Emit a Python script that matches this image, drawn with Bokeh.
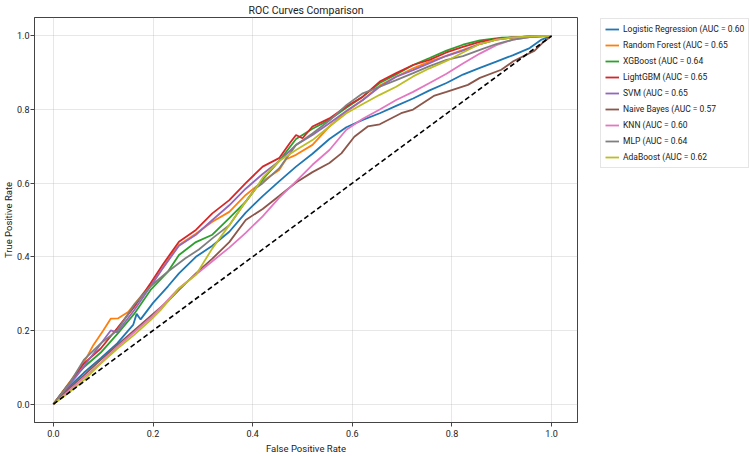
from bokeh.plotting import figure
from bokeh.layouts import row
from bokeh.models import Legend, LegendItem, FixedTicker
from bokeh.embed import file_html
from bokeh.resources import INLINE

# ROC curve points (false positive rate / true positive rate) per model
lr_fpr = [0, .03, .061, .095, .128, .16, .167, .175, .2, .23, .252, .286, .319, .353, .386, .42, .453, .487, .52, .554, .588, .621, .655, .688, .722, .755, .789, .822, .856, .889, .923, .956, .98, 1]
lr_tpr = [0, .045, .085, .125, .165, .215, .245, .23, .275, .32, .355, .4, .43, .468, .52, .565, .605, .645, .68, .72, .752, .772, .79, .81, .83, .852, .872, .895, .913, .93, .948, .967, .99, 1]

rf_fpr = [0, .03, .06, .08, .1, .115, .13, .15, .18, .2, .239, .252, .286, .319, .353, .386, .406, .42, .453, .467, .487, .52, .554, .588, .621, .655, .688, .722, .755, .789, .822, .856, .889, .923, .956, 1]
rf_tpr = [0, .055, .11, .16, .2, .232, .233, .25, .3, .33, .41, .432, .463, .495, .522, .568, .59, .605, .636, .665, .677, .704, .754, .795, .826, .865, .889, .912, .93, .946, .962, .978, .99, .996, .999, 1]

xgb_fpr = [0, .034, .061, .095, .128, .162, .195, .23, .252, .286, .319, .353, .386, .42, .453, .487, .52, .554, .588, .621, .655, .688, .722, .755, .789, .822, .856, .9, .95, 1]
xgb_tpr = [0, .06, .1, .14, .19, .245, .31, .36, .405, .44, .46, .505, .55, .61, .66, .72, .748, .772, .805, .835, .872, .895, .921, .94, .96, .976, .988, .995, .998, 1]

lgbm_fpr = [0, .034, .061, .095, .128, .162, .195, .22, .252, .286, .319, .353, .386, .42, .453, .475, .487, .5, .52, .554, .588, .621, .655, .688, .722, .755, .789, .822, .856, .889, .923, .96, 1]
lgbm_tpr = [0, .06, .11, .151, .206, .264, .328, .38, .441, .473, .518, .554, .6, .645, .668, .71, .731, .722, .754, .776, .808, .835, .876, .899, .921, .935, .955, .97, .984, .992, .996, .999, 1]

svm_fpr = [0, .045, .081, .115, .128, .162, .195, .22, .252, .286, .319, .353, .386, .42, .453, .487, .52, .554, .588, .621, .655, .688, .722, .755, .789, .822, .856, .889, .923, .96, 1]
svm_tpr = [0, .074, .138, .2, .195, .255, .32, .37, .43, .46, .5, .54, .585, .625, .66, .704, .731, .763, .796, .826, .862, .889, .907, .926, .946, .96, .978, .99, .996, .999, 1]

nb_fpr = [0, .03, .061, .095, .128, .162, .2, .23, .252, .286, .319, .353, .386, .42, .453, .487, .52, .554, .578, .604, .631, .655, .698, .722, .765, .789, .832, .856, .899, .923, .966, .985, 1]
nb_tpr = [0, .04, .078, .12, .16, .2, .245, .28, .31, .355, .395, .44, .5, .53, .565, .602, .63, .655, .681, .726, .754, .76, .79, .8, .838, .848, .867, .886, .908, .931, .96, .985, 1]

knn_fpr = [0, .03, .061, .095, .128, .162, .2, .252, .286, .319, .353, .386, .42, .453, .487, .52, .554, .588, .621, .655, .688, .722, .755, .789, .822, .856, .889, .923, .956, 1]
knn_tpr = [0, .035, .072, .112, .155, .195, .24, .315, .352, .388, .425, .465, .51, .56, .605, .65, .69, .745, .775, .8, .826, .848, .872, .897, .925, .952, .975, .99, .997, 1]

mlp_fpr = [0, .034, .061, .095, .128, .162, .195, .23, .265, .292, .319, .353, .386, .406, .42, .453, .487, .52, .554, .588, .621, .655, .688, .722, .755, .789, .822, .856, .889, .923, .956, 1]
mlp_tpr = [0, .06, .12, .165, .2, .27, .32, .36, .396, .42, .45, .486, .55, .586, .6, .64, .704, .735, .77, .812, .844, .862, .88, .899, .918, .935, .945, .962, .978, .99, .997, 1]

ada_fpr = [0, .03, .061, .095, .128, .162, .195, .215, .252, .286, .319, .353, .386, .406, .42, .453, .487, .52, .554, .588, .621, .655, .688, .722, .755, .789, .822, .856, .889, .923, .96, 1]
ada_tpr = [0, .03, .065, .11, .15, .188, .228, .255, .314, .351, .423, .486, .55, .585, .615, .66, .69, .717, .754, .79, .815, .84, .862, .89, .912, .932, .955, .978, .99, .996, .999, 1]

model_names = ["Logistic Regression", "Random Forest", "XGBoost", "LightGBM", "SVM",
               "Naive Bayes", "KNN", "MLP", "AdaBoost"]
auc_values = [0.60, 0.65, 0.64, 0.65, 0.65, 0.57, 0.60, 0.64, 0.62]
curves = [(lr_fpr, lr_tpr), (rf_fpr, rf_tpr), (xgb_fpr, xgb_tpr), (lgbm_fpr, lgbm_tpr),
          (svm_fpr, svm_tpr), (nb_fpr, nb_tpr), (knn_fpr, knn_tpr), (mlp_fpr, mlp_tpr),
          (ada_fpr, ada_tpr)]
colors = ["#1f77b4", "#ff7f0e", "#2ca02c", "#d62728", "#9467bd",
          "#8c564b", "#e377c2", "#7f7f7f", "#bcbd22"]
tick_values = [0.0, 0.2, 0.4, 0.6, 0.8, 1.0]

FONT = "Roboto"
INK = "#222222"

# main ROC panel
p = figure(width=578, height=456, x_range=(-0.038, 1.052), y_range=(-0.05, 1.05),
           output_backend="svg", toolbar_location=None,
           min_border_left=0, min_border_right=1, min_border_top=0, min_border_bottom=34,
           title="ROC Curves Comparison")

p.title.align = "center"
p.title.text_font = FONT
p.title.text_font_size = "10.5px"
p.title.text_font_style = "normal"
p.title.text_color = INK
p.title.standoff = 2

p.outline_line_color = "#444444"
p.outline_line_width = 1
p.background_fill_color = "white"
p.border_fill_color = "white"

for ax in (p.xaxis[0], p.yaxis[0]):
    ax.ticker = FixedTicker(ticks=tick_values)
    ax.major_label_overrides = {t: f"{t:.1f}" for t in tick_values}
    ax.major_label_text_font = FONT
    ax.major_label_text_font_size = "9px"
    ax.major_label_text_color = INK
    ax.axis_label_text_font = FONT
    ax.axis_label_text_font_size = "9.5px"
    ax.axis_label_text_font_style = "normal"
    ax.axis_label_text_color = INK
    ax.axis_line_color = "#444444"
    ax.major_tick_line_color = "#444444"
    ax.major_tick_out = 4
    ax.major_tick_in = 0
    ax.minor_tick_line_color = None

p.xaxis.major_label_standoff = 3
p.xaxis.axis_label_standoff = 3
p.yaxis.major_label_standoff = 1
p.yaxis.axis_label_standoff = 0
p.yaxis.axis_label_text_line_height = 1.0

p.xaxis.axis_label = "False Positive Rate"
p.yaxis.axis_label = "True Positive Rate"

p.xgrid.ticker = FixedTicker(ticks=tick_values)
p.ygrid.ticker = FixedTicker(ticks=tick_values)
p.grid.grid_line_color = "#b0b0b0"
p.grid.grid_line_alpha = 0.3
p.grid.grid_line_width = 1

for (fpr, tpr), color in zip(curves, colors):
    p.line(fpr, tpr, line_color=color, line_width=1.8)

# chance diagonal
p.line([0, 1], [0, 1], line_color="black", line_width=1.6, line_dash="5 3")

# legend strip to the right of the plot; its line renderers hold no drawable points
lg = figure(width=172, height=456, x_range=(0, 1), y_range=(0, 1),
            output_backend="svg", toolbar_location=None, min_border=0)
lg.axis.visible = False
lg.grid.visible = False
lg.outline_line_color = None
lg.background_fill_color = "white"
lg.border_fill_color = "white"

nan = float("nan")
items = []
for name, auc, color in zip(model_names, auc_values, colors):
    r = lg.line(x=[nan], y=[nan], line_color=color, line_width=1.8)
    items.append(LegendItem(label=f"{name} (AUC = {auc:.2f}", renderers=[r]))

legend = Legend(items=items, location=(22, 254))
legend.label_text_font = FONT
legend.label_text_font_size = "8.5px"
legend.label_text_color = INK
legend.glyph_width = 14
legend.glyph_height = 12
legend.label_height = 12
legend.spacing = 4
legend.padding = 4
legend.margin = 0
legend.label_standoff = 4
legend.border_line_color = "#cccccc"
legend.border_line_width = 1
legend.background_fill_color = "white"
legend.background_fill_alpha = 1
lg.add_layout(legend)

layout = row(p, lg)
open("out.html", "w").write(file_html(layout, INLINE))
